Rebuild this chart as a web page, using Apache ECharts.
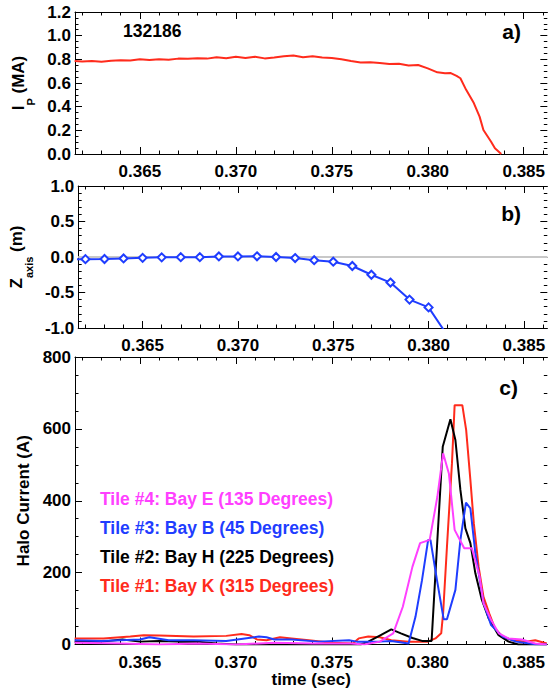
<!DOCTYPE html>
<html><head><meta charset="utf-8">
<script src="https://cdn.jsdelivr.net/npm/echarts@6/dist/echarts.min.js"></script>
<style>html,body{margin:0;padding:0;background:#fff}#c{width:548px;height:690px}</style>
</head><body><div id="c"></div>
<script>
// ---------------- data ----------------
const shotNumber = '132186';
const panelTags = ['a)', 'b)', 'c)'];
const xMajorTicks = [0.365, 0.370, 0.375, 0.380, 0.385];
const xMinorTicks = [0.362,0.363,0.364,0.366,0.367,0.368,0.369,0.371,0.372,0.373,0.374,0.376,0.377,0.378,0.379,0.381,0.382,0.383,0.384,0.386];
const X_MIN = 0.36162, X_MAX = 0.38623;

// panel a: plasma current (MA)
const ipTime = [0.3616,0.3620,0.3625,0.3630,0.3635,0.3640,0.3645,0.3650,0.3655,0.3660,0.3665,0.3670,0.3675,0.3680,0.3685,0.3690,0.3695,0.3700,0.3705,0.3710,0.3715,0.3720,0.3725,0.3730,0.3735,0.3740,0.3745,0.3750,0.3755,0.3760,0.3765,0.3770,0.3775,0.3780,0.3785,0.3790,0.3795,0.3800,0.3805,0.3809,0.3812,0.3815,0.3817,0.3820,0.3824,0.3827,0.3829,0.3833,0.3835,0.38383];
const ipValues = [0.785,0.782,0.786,0.780,0.788,0.792,0.790,0.800,0.794,0.800,0.796,0.806,0.804,0.810,0.806,0.818,0.810,0.822,0.812,0.822,0.808,0.816,0.826,0.832,0.818,0.826,0.816,0.812,0.800,0.785,0.774,0.776,0.770,0.760,0.762,0.748,0.752,0.724,0.690,0.682,0.684,0.660,0.640,0.542,0.430,0.316,0.203,0.104,0.048,0.0];

// panel b: Z axis (m)
const zTime = [0.361,0.362,0.363,0.364,0.365,0.366,0.367,0.368,0.369,0.370,0.371,0.372,0.373,0.374,0.375,0.376,0.377,0.378,0.379,0.380,0.381];
const zValues = [-0.035,-0.030,-0.028,-0.020,-0.012,-0.005,-0.002,-0.002,0.008,0.008,0.010,0.000,-0.015,-0.045,-0.066,-0.127,-0.250,-0.360,-0.600,-0.710,-1.110];

// panel c: halo currents (A)
const tile1Name = 'Tile #1: Bay K (315 Degrees)';
const tile1Time = [0.3616,0.3631,0.3645,0.3652,0.3660,0.3678,0.3695,0.3703,0.3707,0.3711,0.3716,0.3723,0.3729,0.3738,0.3750,0.3761,0.3764,0.3769,0.3775,0.3781,0.3790,0.3800,0.3804,0.3807,0.3808,0.3810,0.38126,0.3814,0.3818,0.3820,0.38222,0.3824,0.38265,0.3829,0.3832,0.3835,0.3839,0.3844,0.3851,0.3856,0.3862];
const tile1Values = [17,17,22,26,25,22,24,29,26,14,12,20,17,12,5,3,17,22,20,12,8,8,17,31,87,272,504,666,666,597,458,337,216,133,87,45,22,12,8,12,3];

const tile2Name = 'Tile #2: Bay H (225 Degrees)';
const tile2Time = [0.3616,0.3630,0.3641,0.3650,0.3660,0.3670,0.3680,0.3690,0.3700,0.3720,0.3750,0.3765,0.3769,0.3775,0.3781,0.3786,0.3792,0.3797,0.3802,0.38048,0.38078,0.38118,0.38144,0.38170,0.38196,0.38222,0.38248,0.38282,0.38317,0.38369,0.38421,0.38472,0.3862];
const tile2Values = [8,8,14,8,10,8,8,3,0,0,0,0,8,25,42,31,18,10,10,272,550,627,569,430,323,282,198,124,73,26,8,0,0];

const tile3Name = 'Tile #3: Bay B (45 Degrees)';
const tile3Time = [0.3616,0.3630,0.3650,0.3655,0.3665,0.3678,0.3695,0.3712,0.3716,0.3720,0.3729,0.3743,0.3759,0.3763,0.3775,0.3781,0.3790,0.37936,0.37970,0.38002,0.38014,0.38048,0.38083,0.38100,0.38144,0.38170,0.38199,0.38222,0.38248,0.38291,0.3833,0.3839,0.3846,0.3856,0.3862];
const tile3Values = [12,10,14,20,12,12,10,22,20,14,14,8,12,8,8,10,3,77,179,291,291,179,70,70,152,291,395,379,254,115,54,22,8,1,0];

const tile4Name = 'Tile #4: Bay E (135 Degrees)';
const tile4Time = [0.3616,0.3640,0.3660,0.3680,0.3700,0.3720,0.3740,0.3760,0.3767,0.3775,0.3782,0.3787,0.3792,0.3796,0.3801,0.3805,0.3808,0.3811,0.3814,0.3819,0.3823,0.3827,0.3829,0.3833,0.3837,0.3842,0.3849,0.3856,0.3862];
const tile4Values = [5,3,0,3,0,5,3,3,0,8,31,105,216,282,291,411,532,476,319,268,268,189,115,68,31,17,14,3,0];

// ---------------- styling ----------------
const FONT = '"Liberation Sans", Arial, Helvetica, sans-serif';
const RED = '#ff2b1c', BLUE = '#1f3dff', MAGENTA = '#ff40ff', BLACK = '#000000';
const zip = (a, b) => a.map((t, i) => [t, b[i]]);
const lbl = {color: '#000', fontSize: 17, fontWeight: 'bold', fontFamily: FONT};
const blackLine = {color: '#000', width: 1};

function xAxes(g, withName) {
  const base = {type: 'value', gridIndex: g, min: X_MIN, max: X_MAX, splitLine: {show: false}};
  return [
    Object.assign({}, base, {position: 'bottom',
      axisLine: {show: true, onZero: false, lineStyle: blackLine},
      axisTick: {show: true, inside: true, length: 7, customValues: xMajorTicks, lineStyle: blackLine},
      axisLabel: Object.assign({show: true, customValues: xMajorTicks, margin: 9, formatter: v => v.toFixed(3)}, lbl),
      name: withName ? 'time (sec)' : '', nameLocation: 'middle', nameGap: 26,
      nameTextStyle: Object.assign({}, lbl)}),
    Object.assign({}, base, {position: 'bottom',
      axisLine: {show: false, onZero: false},
      axisTick: {show: true, inside: true, length: 3.5, customValues: xMinorTicks, lineStyle: blackLine},
      axisLabel: {show: false}}),
    Object.assign({}, base, {position: 'top',
      axisLine: {show: true, onZero: false, lineStyle: blackLine},
      axisTick: {show: true, inside: true, length: 7, customValues: xMajorTicks, lineStyle: blackLine},
      axisLabel: {show: false}}),
    Object.assign({}, base, {position: 'top',
      axisLine: {show: false, onZero: false},
      axisTick: {show: true, inside: true, length: 3.5, customValues: xMinorTicks, lineStyle: blackLine},
      axisLabel: {show: false}})
  ];
}
function yAxes(g, min, max, interval, minorSplit, digits, name, nameGap, rich) {
  const base = {type: 'value', gridIndex: g, min, max, interval, splitLine: {show: false},
    minorTick: {show: true, splitNumber: minorSplit, length: 3.5, lineStyle: blackLine}};
  return [
    Object.assign({}, base, {position: 'left',
      axisLine: {show: true, onZero: false, lineStyle: blackLine},
      axisTick: {show: true, inside: true, length: 7, lineStyle: blackLine},
      axisLabel: Object.assign({margin: 4, formatter: v => v.toFixed(digits)}, lbl),
      name, nameLocation: 'middle', nameGap,
      nameTextStyle: Object.assign({}, lbl, rich ? {rich} : {})}),
    Object.assign({}, base, {position: 'right',
      axisLine: {show: false, onZero: false},
      axisTick: {show: true, inside: true, length: 7, lineStyle: blackLine},
      axisLabel: {show: false}})
  ];
}
const subRich = {
  t: {fontSize: 17, fontWeight: 'bold', fontFamily: FONT, color: '#000', verticalAlign: 'top'},
  s: {fontSize: 11, fontWeight: 'bold', fontFamily: FONT, color: '#000', lineHeight: 26, verticalAlign: 'bottom'}
};

const chart = echarts.init(document.getElementById('c'), null, {renderer: 'svg', width: 548, height: 690});
const haloLine = (name, t, v, color) => ({
  type: 'line', name, xAxisIndex: 8, yAxisIndex: 4, data: zip(t, v), symbol: 'none',
  lineStyle: {color, width: 2}, itemStyle: {color}, clip: true, z: 3
});
chart.setOption({
  animation: false,
  backgroundColor: '#fff',
  grid: [
    {left: 75, top: 12, width: 474, height: 142},
    {left: 75, top: 186, width: 474, height: 142},
    {left: 75, top: 357, width: 474, height: 287.5}
  ],
  xAxis: [].concat(xAxes(0, false), xAxes(1, false), xAxes(2, true)),
  yAxis: [].concat(
    yAxes(0, 0, 1.2, 0.2, 4, 1, '{t|I}{s|P}{t| (MA)}', 32, subRich),
    yAxes(1, -1, 1, 0.5, 5, 1, '{t|Z}{s|axis}{t| (m)}', 32, subRich),
    yAxes(2, 0, 800, 200, 4, 0, 'Halo Current (A)', 42, null)
  ),
  legend: {
    orient: 'vertical', left: 90, top: 485, itemWidth: 0, itemHeight: 0, itemGap: 11,
    selectedMode: false, icon: 'rect',
    textStyle: {fontSize: 17.5, fontWeight: 'bold', fontFamily: FONT},
    data: [
      {name: tile4Name, textStyle: {color: MAGENTA}},
      {name: tile3Name, textStyle: {color: BLUE}},
      {name: tile2Name, textStyle: {color: BLACK}},
      {name: tile1Name, textStyle: {color: RED}}
    ]
  },
  graphic: [
    {type: 'text', x: 123, y: 31, style: {text: shotNumber, font: 'bold 17.5px ' + FONT, fill: '#000', align: 'left', verticalAlign: 'middle'}},
    {type: 'text', x: 521, y: 31, style: {text: panelTags[0], font: 'bold 21px ' + FONT, fill: '#000', align: 'right', verticalAlign: 'middle'}},
    {type: 'text', x: 521, y: 213, style: {text: panelTags[1], font: 'bold 21px ' + FONT, fill: '#000', align: 'right', verticalAlign: 'middle'}},
    {type: 'text', x: 518, y: 387, style: {text: panelTags[2], font: 'bold 21px ' + FONT, fill: '#000', align: 'right', verticalAlign: 'middle'}}
  ],
  series: [
    {type: 'line', name: 'Ip', xAxisIndex: 0, yAxisIndex: 0, data: zip(ipTime, ipValues), symbol: 'none',
      lineStyle: {color: RED, width: 2}, itemStyle: {color: RED}, clip: true},
    {type: 'line', name: 'Zaxis', xAxisIndex: 4, yAxisIndex: 2, data: zip(zTime, zValues),
      symbol: 'emptyDiamond', symbolSize: 8, showSymbol: true, z: 3,
      lineStyle: {color: BLUE, width: 2}, itemStyle: {color: BLUE, borderWidth: 1.2}, clip: true,
      markLine: {silent: true, z: 1, symbol: 'none', label: {show: false},
        lineStyle: {color: '#c8c8c8', width: 2, type: 'solid'}, data: [{yAxis: 0}]}},
    haloLine(tile1Name, tile1Time, tile1Values, RED),
    haloLine(tile2Name, tile2Time, tile2Values, BLACK),
    haloLine(tile3Name, tile3Time, tile3Values, BLUE),
    haloLine(tile4Name, tile4Time, tile4Values, MAGENTA)
  ]
});
</script></body></html>
